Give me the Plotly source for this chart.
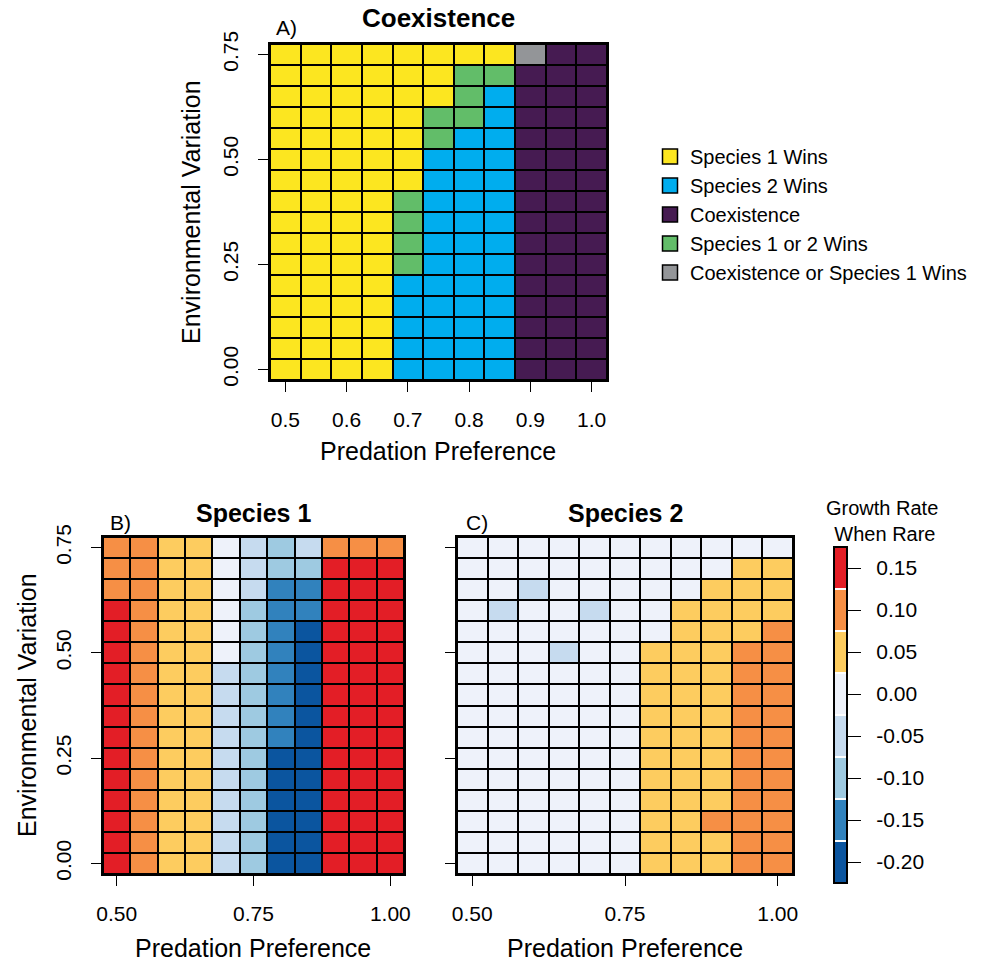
import plotly.graph_objects as go

# ---------------- data ----------------
pred_pref = [0.50, 0.55, 0.60, 0.65, 0.70, 0.75, 0.80, 0.85, 0.90, 0.95, 1.00]
env_var = [0.00, 0.05, 0.10, 0.15, 0.20, 0.25, 0.30, 0.35, 0.40, 0.45, 0.50, 0.55, 0.60, 0.65, 0.70, 0.75]

outcome_names = ["Species 1 Wins", "Species 2 Wins", "Coexistence",
                 "Species 1 or 2 Wins", "Coexistence or Species 1 Wins"]
outcome_colors = ["#FCE620", "#00ADEE", "#461B52", "#62BD69", "#939598"]

# outcome codes (1..5 -> outcome_names), rows listed from env 0.75 down to 0.00
outcome_top_down = [
    [1, 1, 1, 1, 1, 1, 1, 1, 5, 3, 3],
    [1, 1, 1, 1, 1, 1, 4, 4, 3, 3, 3],
    [1, 1, 1, 1, 1, 1, 4, 2, 3, 3, 3],
    [1, 1, 1, 1, 1, 4, 4, 2, 3, 3, 3],
    [1, 1, 1, 1, 1, 4, 2, 2, 3, 3, 3],
    [1, 1, 1, 1, 1, 2, 2, 2, 3, 3, 3],
    [1, 1, 1, 1, 1, 2, 2, 2, 3, 3, 3],
    [1, 1, 1, 1, 4, 2, 2, 2, 3, 3, 3],
    [1, 1, 1, 1, 4, 2, 2, 2, 3, 3, 3],
    [1, 1, 1, 1, 4, 2, 2, 2, 3, 3, 3],
    [1, 1, 1, 1, 4, 2, 2, 2, 3, 3, 3],
    [1, 1, 1, 1, 2, 2, 2, 2, 3, 3, 3],
    [1, 1, 1, 1, 2, 2, 2, 2, 3, 3, 3],
    [1, 1, 1, 1, 2, 2, 2, 2, 3, 3, 3],
    [1, 1, 1, 1, 2, 2, 2, 2, 3, 3, 3],
    [1, 1, 1, 1, 2, 2, 2, 2, 3, 3, 3],
]

# growth rate when rare, species 1 (rows env 0.75 -> 0.00)
sp1_top_down = [
    [0.10, 0.10, 0.05, 0.05, 0.00, -0.05, -0.10, -0.05, 0.10, 0.10, 0.10],
    [0.10, 0.10, 0.05, 0.05, 0.00, -0.05, -0.10, -0.10, 0.15, 0.15, 0.15],
    [0.10, 0.10, 0.05, 0.05, 0.00, -0.05, -0.15, -0.15, 0.15, 0.15, 0.15],
    [0.15, 0.10, 0.05, 0.05, 0.00, -0.10, -0.15, -0.15, 0.15, 0.15, 0.15],
    [0.15, 0.10, 0.05, 0.05, 0.00, -0.10, -0.15, -0.20, 0.15, 0.15, 0.15],
    [0.15, 0.10, 0.05, 0.05, 0.00, -0.10, -0.15, -0.20, 0.15, 0.15, 0.15],
    [0.15, 0.10, 0.05, 0.05, -0.05, -0.10, -0.15, -0.20, 0.15, 0.15, 0.15],
    [0.15, 0.10, 0.05, 0.05, -0.05, -0.10, -0.15, -0.20, 0.15, 0.15, 0.15],
    [0.15, 0.10, 0.05, 0.05, -0.05, -0.10, -0.15, -0.20, 0.15, 0.15, 0.15],
    [0.15, 0.10, 0.05, 0.05, -0.05, -0.10, -0.15, -0.20, 0.15, 0.15, 0.15],
    [0.15, 0.10, 0.05, 0.05, -0.05, -0.10, -0.20, -0.20, 0.15, 0.15, 0.15],
    [0.15, 0.10, 0.05, 0.05, -0.05, -0.10, -0.20, -0.20, 0.15, 0.15, 0.15],
    [0.15, 0.10, 0.05, 0.05, -0.05, -0.10, -0.20, -0.20, 0.15, 0.15, 0.15],
    [0.15, 0.10, 0.05, 0.05, -0.05, -0.10, -0.20, -0.20, 0.15, 0.15, 0.15],
    [0.15, 0.10, 0.05, 0.05, -0.05, -0.10, -0.20, -0.20, 0.15, 0.15, 0.15],
    [0.15, 0.10, 0.05, 0.05, -0.05, -0.10, -0.20, -0.20, 0.15, 0.15, 0.15],
]

# growth rate when rare, species 2 (rows env 0.75 -> 0.00)
sp2_top_down = [
    [0.00, 0.00, 0.00, 0.00, 0.00, 0.00, 0.00, 0.00, 0.00, 0.00, 0.00],
    [0.00, 0.00, 0.00, 0.00, 0.00, 0.00, 0.00, 0.00, 0.00, 0.05, 0.05],
    [0.00, 0.00, -0.05, 0.00, 0.00, 0.00, 0.00, 0.00, 0.05, 0.05, 0.05],
    [0.00, -0.05, 0.00, 0.00, -0.05, 0.00, 0.00, 0.05, 0.05, 0.05, 0.05],
    [0.00, 0.00, 0.00, 0.00, 0.00, 0.00, 0.00, 0.05, 0.05, 0.05, 0.10],
    [0.00, 0.00, 0.00, -0.05, 0.00, 0.00, 0.05, 0.05, 0.05, 0.10, 0.10],
    [0.00, 0.00, 0.00, 0.00, 0.00, 0.00, 0.05, 0.05, 0.05, 0.10, 0.10],
    [0.00, 0.00, 0.00, 0.00, 0.00, 0.00, 0.05, 0.05, 0.05, 0.10, 0.10],
    [0.00, 0.00, 0.00, 0.00, 0.00, 0.00, 0.05, 0.05, 0.05, 0.10, 0.10],
    [0.00, 0.00, 0.00, 0.00, 0.00, 0.00, 0.05, 0.05, 0.05, 0.10, 0.10],
    [0.00, 0.00, 0.00, 0.00, 0.00, 0.00, 0.05, 0.05, 0.05, 0.10, 0.10],
    [0.00, 0.00, 0.00, 0.00, 0.00, 0.00, 0.05, 0.05, 0.05, 0.10, 0.10],
    [0.00, 0.00, 0.00, 0.00, 0.00, 0.00, 0.05, 0.05, 0.05, 0.10, 0.10],
    [0.00, 0.00, 0.00, 0.00, 0.00, 0.00, 0.05, 0.05, 0.10, 0.10, 0.10],
    [0.00, 0.00, 0.00, 0.00, 0.00, 0.00, 0.05, 0.05, 0.05, 0.10, 0.10],
    [0.00, 0.00, 0.00, 0.00, 0.00, 0.00, 0.05, 0.05, 0.05, 0.10, 0.10],
]

growth_bins = [-0.20, -0.15, -0.10, -0.05, 0.00, 0.05, 0.10, 0.15]
growth_colors = ["#0B559F", "#3182BD", "#9ECAE1", "#C6DBEF",
                 "#EEF2FA", "#FDCC5F", "#F68F45", "#E31E26"]
growth_ticktext = ["-0.20", "-0.15", "-0.10", "-0.05", "0.00", "0.05", "0.10", "0.15"]

xA_ticks = [0.5, 0.6, 0.7, 0.8, 0.9, 1.0]
xA_text = ["0.5", "0.6", "0.7", "0.8", "0.9", "1.0"]
xB_ticks = [0.50, 0.75, 1.00]
xB_text = ["0.50", "0.75", "1.00"]
y_ticks = [0.00, 0.25, 0.50, 0.75]
y_text = ["0.00", "0.25", "0.50", "0.75"]

# ---------------- helpers ----------------
W, H = 994, 964
FONT = "Liberation Sans, Arial, sans-serif"


def px(x):
    return x / W


def py(y):
    return 1 - y / H


def stepped(colors, sep=None, half=0.0016):
    """Piecewise-constant colorscale; optional thin separator colour between bins."""
    n = len(colors)
    cs = []
    for i, c in enumerate(colors):
        lo, hi = i / n, (i + 1) / n
        if sep is not None and i > 0:
            lo += half
        if sep is not None and i < n - 1:
            hi -= half
        if sep is not None and i > 0:
            cs.append([lo, sep])
        cs.append([lo, c])
        cs.append([hi, c])
        if sep is not None and i < n - 1:
            cs.append([hi, sep])
    return cs


outcome_z = outcome_top_down[::-1]
sp1_z = sp1_top_down[::-1]
sp2_z = sp2_top_down[::-1]

step = growth_bins[1] - growth_bins[0]
gmin = growth_bins[0] - step / 2
gmax = growth_bins[-1] + step / 2

fig = go.Figure()

fig.add_trace(go.Heatmap(
    x=pred_pref, y=env_var, z=outcome_z,
    zmin=0.5, zmax=len(outcome_names) + 0.5,
    colorscale=stepped(outcome_colors), showscale=False,
    xgap=2, ygap=2, xaxis="x", yaxis="y", hoverinfo="skip"))

for name, col in zip(outcome_names, outcome_colors):
    fig.add_trace(go.Scatter(
        x=[None], y=[None], mode="markers", name=name,
        marker=dict(symbol="square", size=15, color=col,
                    line=dict(color="black", width=1.5)),
        xaxis="x", yaxis="y", showlegend=True))

fig.add_trace(go.Heatmap(
    x=pred_pref, y=env_var, z=sp1_z, coloraxis="coloraxis",
    xgap=2, ygap=2, xaxis="x2", yaxis="y2", showlegend=False))
fig.add_trace(go.Heatmap(
    x=pred_pref, y=env_var, z=sp2_z, coloraxis="coloraxis",
    xgap=2, ygap=2, xaxis="x3", yaxis="y3", showlegend=False))


def axis(domain, tickvals, ticktext, anchor, showlabels=True, angle=0, standoff=None):
    d = dict(domain=domain, anchor=anchor, showline=True, mirror=True,
             linecolor="black", linewidth=2, ticks="outside", ticklen=10,
             tickwidth=1, tickcolor="black", showgrid=False, zeroline=False,
             tickvals=tickvals, ticktext=ticktext, showticklabels=showlabels,
             tickangle=angle, tickfont=dict(family=FONT, size=21, color="black"),
             fixedrange=True, automargin=False)
    if standoff is not None:
        d["ticklabelstandoff"] = standoff
    return d


xr = [pred_pref[0] - 0.025, pred_pref[-1] + 0.025]
yr = [env_var[0] - 0.025, env_var[-1] + 0.025]

A_x = [px(270), px(607)]
A_y = [py(380), py(44)]
B_x = [px(103), px(404)]
C_x = [px(457), px(793)]
BC_y = [py(874), py(537)]

NB = "\u00a0"

layout = dict(
    template="none",
    width=W, height=H, margin=dict(l=0, r=0, t=0, b=0, autoexpand=False),
    paper_bgcolor="white", plot_bgcolor="black",
    font=dict(family=FONT, color="black"),
    xaxis=dict(axis(A_x, xA_ticks, xA_text, "y", standoff=10), range=xr),
    yaxis=dict(axis(A_y, y_ticks, y_text, "x", angle=-90, standoff=12), range=yr),
    xaxis2=dict(axis(B_x, xB_ticks, xB_text, "y2", standoff=10), range=xr),
    yaxis2=dict(axis(BC_y, y_ticks, y_text, "x2", angle=-90, standoff=12), range=yr),
    xaxis3=dict(axis(C_x, xB_ticks, xB_text, "y3", standoff=10), range=xr),
    yaxis3=dict(axis(BC_y, y_ticks, y_text, "x3", showlabels=False), range=yr),
    coloraxis=dict(
        colorscale=stepped(growth_colors, sep="#FFFFFF"), cmin=gmin, cmax=gmax,
        colorbar=dict(
            x=px(834), xanchor="left", y=py(715), yanchor="middle",
            len=336, lenmode="pixels", thickness=13, thicknessmode="pixels",
            outlinecolor="black", outlinewidth=2, xpad=0, ypad=0,
            ticks="outside", ticklen=13, tickwidth=1, tickcolor="black",
            tickvals=growth_bins, ticktext=[NB * 2 + t for t in growth_ticktext],
            tickfont=dict(family=FONT, size=21, color="black"))),
    legend=dict(x=px(650), y=py(137), xanchor="left", yanchor="top",
                font=dict(family=FONT, size=20, color="black"),
                bgcolor="rgba(0,0,0,0)", borderwidth=0, tracegroupgap=0),
    showlegend=True,
)
fig.update_layout(**layout)


def ann(text, x, y, size=21, bold=False, angle=0):
    if bold:
        text = "<b>" + text + "</b>"
    fig.add_annotation(text=text, x=px(x), y=py(y), xref="paper", yref="paper",
                       xanchor="center", yanchor="middle", showarrow=False,
                       textangle=angle, font=dict(family=FONT, size=size, color="black"))


ann("Coexistence", 438, 18, size=26, bold=True)
ann("A)", 286, 27)
ann("Species 1", 253, 513, size=25, bold=True)
ann("B)", 120, 522)
ann("Species 2", 625, 513, size=25, bold=True)
ann("C)", 477, 522)
ann("Predation Preference", 438, 451, size=25)
ann("Predation Preference", 253, 948, size=25)
ann("Predation Preference", 625, 948, size=25)
ann("Environmental Variation", 191, 212, size=25, angle=-90)
ann("Environmental Variation", 27, 705, size=25, angle=-90)
ann("Growth Rate<br>" + NB + "When Rare", 882, 521, size=20)

fig.write_html("out.html")
